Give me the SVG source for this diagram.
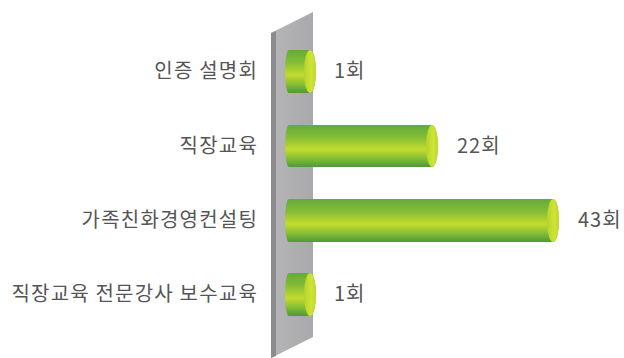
<svg xmlns="http://www.w3.org/2000/svg" width="624" height="358" viewBox="0 0 624 358">
<defs>
<style>
.lbl{font-family:"Noto Sans CJK KR","Noto Sans",sans-serif;font-size:20px;letter-spacing:1.2px;fill:#555555;}
.num{font-family:"Noto Sans CJK KR","Noto Sans",sans-serif;font-size:20px;letter-spacing:1px;fill:#555555;}
</style>
<linearGradient id="bar" x1="0" y1="0" x2="0" y2="1">
<stop offset="0" stop-color="#62aa3a"/>
<stop offset="0.3" stop-color="#86bd36"/>
<stop offset="0.58" stop-color="#c3dc2c"/>
<stop offset="0.8" stop-color="#86bd36"/>
<stop offset="1" stop-color="#4c9a38"/>
</linearGradient>
<linearGradient id="cap" x1="0" y1="0" x2="1" y2="0">
<stop offset="0" stop-color="#b2d42e"/>
<stop offset="0.6" stop-color="#cfe434"/>
<stop offset="1" stop-color="#bcd82e"/>
</linearGradient>
<linearGradient id="panel" x1="0" y1="0" x2="1" y2="0">
<stop offset="0" stop-color="#b6b6b8"/>
<stop offset="1" stop-color="#a9a9ab"/>
</linearGradient>
</defs>
<g id="panel-shape">
<polygon points="271,33 313,12 313,337 271,358" fill="url(#panel)"/>
<polygon points="271,33 276,31 276,356 271,358" fill="#8c8c8e"/>
</g>
<g id="bar1">
<path d="M289,50 H310 A6,21.5 0 0 1 310,93 H289 A4,21.5 0 0 1 289,50 Z" fill="url(#bar)"/>
<ellipse cx="310" cy="71.5" rx="6" ry="21.5" fill="url(#cap)"/>
<text class="lbl" x="258" y="78" text-anchor="end">인증 설명회</text>
<text class="num" x="334" y="78">1회</text>
</g>
<g id="bar2">
<path d="M289,125 H432 A6,21 0 0 1 432,167 H289 A4,21 0 0 1 289,125 Z" fill="url(#bar)"/>
<ellipse cx="432" cy="146" rx="6" ry="21" fill="url(#cap)"/>
<text class="lbl" x="258" y="153" text-anchor="end">직장교육</text>
<text class="num" x="457" y="153">22회</text>
</g>
<g id="bar3">
<path d="M289,199 H553 A6,21.5 0 0 1 553,242 H289 A4,21.5 0 0 1 289,199 Z" fill="url(#bar)"/>
<ellipse cx="553" cy="220.5" rx="6" ry="21.5" fill="url(#cap)"/>
<text class="lbl" x="258" y="227" text-anchor="end">가족친화경영컨설팅</text>
<text class="num" x="578" y="227">43회</text>
</g>
<g id="bar4">
<path d="M289,273 H310 A6,21.5 0 0 1 310,316 H289 A4,21.5 0 0 1 289,273 Z" fill="url(#bar)"/>
<ellipse cx="310" cy="294.5" rx="6" ry="21.5" fill="url(#cap)"/>
<text class="lbl" x="258" y="301" text-anchor="end">직장교육 전문강사 보수교육</text>
<text class="num" x="334" y="301">1회</text>
</g>
<g id="connectors"/>
</svg>
